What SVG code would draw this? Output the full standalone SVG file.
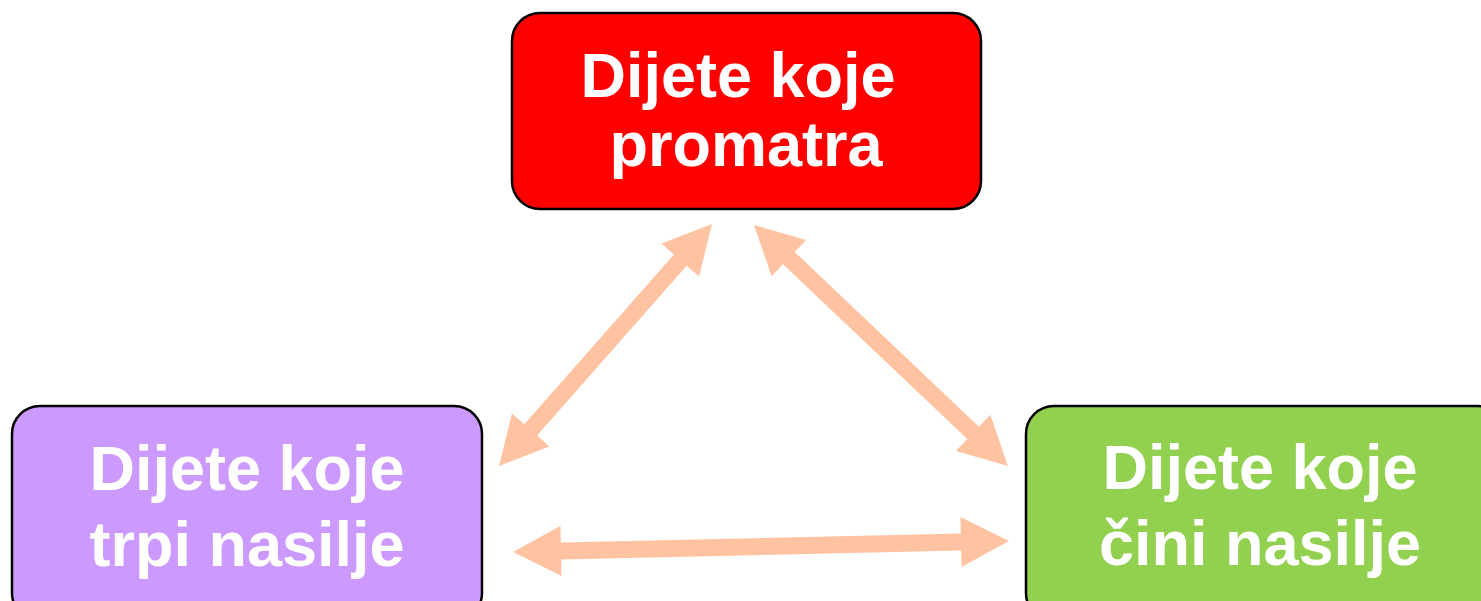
<svg xmlns="http://www.w3.org/2000/svg" width="1481" height="601" viewBox="0 0 1481 601">
<style>
.box{stroke:#000;stroke-width:2.5}
.t{font-family:"Liberation Sans",Arial,sans-serif;font-weight:bold;font-size:63px;fill:#fff;text-anchor:middle}
.arr{fill:#FFC3A2}
</style>
<defs>
<path id="da" d="M0,0 L48,-25 L48,-8.5 L0,-8.5 Z"/>
</defs>
<rect width="1481" height="601" fill="#fff"/>
<g id="connectors">
<path class="arr" transform="translate(499,466) rotate(-48.65)" d="M0,0 L48,-25 L48,-8.5 L274.4,-8.5 L274.4,-25 L322.4,0 L274.4,25 L274.4,8.5 L48,8.5 L48,25 Z"/>
<path class="arr" transform="translate(754,225) rotate(43.5)" d="M0,0 L48,-25 L48,-8.5 L302.1,-8.5 L302.1,-25 L350.1,0 L302.1,25 L302.1,8.5 L48,8.5 L48,25 Z"/>
<path class="arr" transform="translate(513,552) rotate(-1.27)" d="M0,0 L48,-25 L48,-8.5 L448.1,-8.5 L448.1,-25 L496.1,0 L448.1,25 L448.1,8.5 L48,8.5 L48,25 Z"/>
</g>
<g id="node-promatra">
<rect class="box" x="512" y="13" width="469" height="196" rx="28" fill="#FF0000"/>
<text class="t" x="738" y="97">Dijete koje</text>
<text class="t" x="746" y="166">promatra</text>
</g>
<g id="node-trpi">
<rect class="box" x="12" y="406" width="470" height="215" rx="28" fill="#CC99FF"/>
<text class="t" x="247" y="490">Dijete koje</text>
<text class="t" x="247" y="566">trpi nasilje</text>
</g>
<g id="node-cini">
<rect class="box" x="1026" y="406" width="480" height="215" rx="28" fill="#92D050"/>
<text class="t" x="1260" y="489">Dijete koje</text>
<text class="t" x="1260" y="565">čini nasilje</text>
</g>
</svg>
